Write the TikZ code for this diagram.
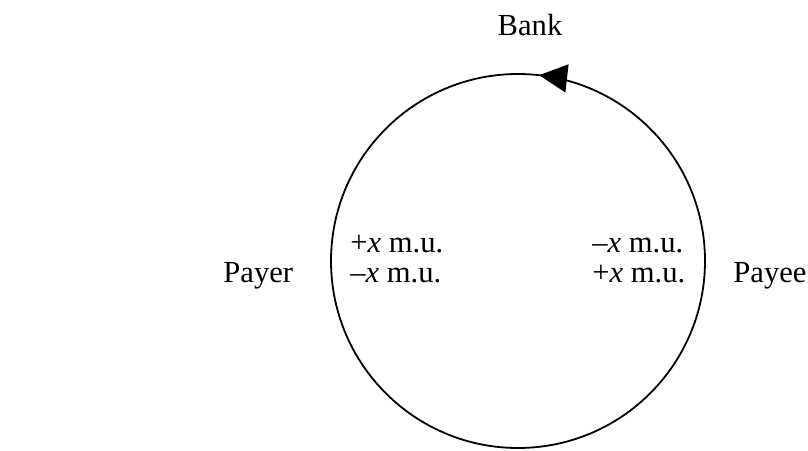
\documentclass[tikz,border=0pt]{standalone}
\usepackage{fontspec}
\setmainfont{Liberation Serif}
\usetikzlibrary{arrows.meta}
\begin{document}
\begin{tikzpicture}
            [x=0.5pt, y=0.5pt,
             ring/.style={circle,draw,line width=0.9pt,minimum size=187pt,inner sep=0pt,outer sep=0pt},
             party/.style={font=\fontsize{15.3}{15}\selectfont,inner sep=0pt}]
            \useasboundingbox (0,0) rectangle (808,450);
            \node[ring] (r) at (518,189) {};
            \node[party, anchor=base] (bank) at (530,414) {Bank};
            \node[party, anchor=base west] (payer) at (223,167) {Payer};
            \node[party, anchor=base west] (payee) at (733,168) {Payee};

            \node[party, anchor=base west] (payerin) at (350,197) {+\textit{x} m.u.};
            \node[party, anchor=base west] (payerout) at (350,167) {\textendash\textit{x} m.u.};
            \node[party, anchor=base west] (payeeout) at (592,197) {\textendash\textit{x} m.u.};
            \node[party, anchor=base west] (payeein) at (592,167) {+\textit{x} m.u.};

            % arrow tip only, the ring itself is the line
            \draw[line width=0.9pt, -{Triangle[length=14pt,width=14pt]}] (r.75) arc[start angle=75, end angle=83.5, radius=187];
         \end{tikzpicture}
\end{document}
